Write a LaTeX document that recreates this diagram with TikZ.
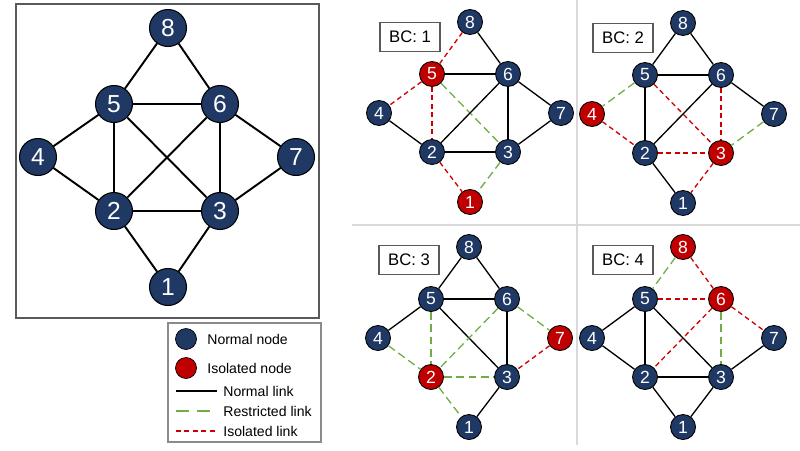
\documentclass[tikz,border=0pt]{standalone}
\usepackage{fontspec}
\setmainfont{Liberation Sans}
\usepackage{tikz}
\usetikzlibrary{positioning}
\definecolor{node-blue}{HTML}{1F3864}
\definecolor{node-red}{HTML}{C00000}
\definecolor{link-green}{HTML}{70AD47}
\definecolor{link-red}{HTML}{D00000}
\definecolor{frame-gray}{HTML}{595959}
\definecolor{rule-gray}{HTML}{D9D9D9}

% per-panel node colouring, reset to blue by default
\tikzset{
    n1/.style={}, n2/.style={}, n3/.style={}, n4/.style={},
    n5/.style={}, n6/.style={}, n7/.style={}, n8/.style={},
}

\begin{document}
\begin{tikzpicture}[
    x=0.02cm, y=-0.02cm,
    bn/.style={circle, draw=black, line width=0.6pt, fill=node-blue, text=white,
               inner sep=0pt, minimum size=0.74cm, font=\fontsize{14}{14}\selectfont},
    sn/.style={circle, draw=black, line width=0.5pt, fill=node-blue, text=white,
               inner sep=0pt, minimum size=0.5cm, font=\fontsize{10}{10}\selectfont},
    iso/.style={fill=node-red},
    bl/.style={black, line width=1.1pt},
    nl/.style={black, line width=0.75pt},
    rl/.style={link-green, line width=0.75pt, dash pattern=on 4.5pt off 2.5pt},
    il/.style={link-red, line width=0.75pt, dash pattern=on 2.8pt off 2pt},
    bc/.style={draw=frame-gray, line width=0.6pt, minimum width=1.2cm, minimum height=0.58cm,
               font=\fontsize{9.5}{9.5}\selectfont},
    lgtext/.style={anchor=west, inner sep=0pt, font=\fontsize{8}{8}\selectfont},
]
    \useasboundingbox (0,0) rectangle (800,450);

    % full network
    \draw[frame-gray, line width=0.8pt] (16,4) rectangle (319,318);
    \foreach \n/\x/\y in {8/168/28, 5/114/104, 6/220/104, 4/38/157,
                          7/296/157, 2/114/211, 3/220/211, 1/168/287}
        \node[bn] (m\n) at (\x,\y) {\n};
    \foreach \a/\b in {8/5, 8/6, 5/6, 5/4, 5/2, 5/3, 6/2, 6/3, 6/7, 4/2, 2/3, 7/3, 2/1, 3/1}
        \draw[bl] (m\a) -- (m\b);

    % legend
    \draw[frame-gray!70, line width=0.6pt] (168,323) rectangle (321,442);
    \node[circle, draw=black, line width=0.4pt, fill=node-blue, minimum size=0.42cm, inner sep=0pt] (lgN) at (186,339) {};
    \node[lgtext] (lgNt) at (207,339) {Normal node};
    \node[circle, draw=black, line width=0.4pt, fill=node-red, minimum size=0.42cm, inner sep=0pt] (lgI) at (186,368) {};
    \node[lgtext] (lgIt) at (207,368) {Isolated node};
    \coordinate (lgA1) at (176,391); \coordinate (lgA2) at (217,391);
    \coordinate (lgB1) at (176,411); \coordinate (lgB2) at (217,411);
    \coordinate (lgC1) at (176,431); \coordinate (lgC2) at (217,431);
    \draw[nl] (lgA1) -- (lgA2);
    \draw[rl, dash pattern=on 7.5pt off 4.5pt] (lgB1) -- (lgB2);
    \draw[il] (lgC1) -- (lgC2);
    \node[lgtext] at (223,391) {Normal link};
    \node[lgtext] at (223,411) {Restricted link};
    \node[lgtext] at (223,431) {Isolated link};

    % panel dividers
    \draw[rule-gray, line width=1pt] (577,0) -- (577,445);
    \draw[rule-gray, line width=1pt] (352,225) -- (800,225);

    % BC: 1
    \begin{scope}[shift={(470,22)}, name prefix=a-, n5/.style={iso}, n1/.style={iso}]
        \foreach \n/\x/\y in {8/0/0, 5/-38/52, 6/38/52, 4/-91/91,
                              7/91/91, 2/-38/130, 3/38/130, 1/0/180}
            \node[sn, n\n] (\n) at (\x,\y) {\n};
        \node[bc] (bc) at (-60,15) {BC: 1};
        \foreach \a/\b/\s in {8/5/il, 8/6/nl, 5/6/nl, 5/4/il, 5/2/il, 5/3/rl, 6/2/nl,
                              6/3/nl, 6/7/nl, 4/2/nl, 2/3/nl, 7/3/nl, 2/1/il, 3/1/rl}
            \draw[\s] (\a) -- (\b);
    \end{scope}

    % BC: 2
    \begin{scope}[shift={(683,23)}, name prefix=b-, n4/.style={iso}, n3/.style={iso}]
        \foreach \n/\x/\y in {8/0/0, 5/-38/52, 6/38/52, 4/-91/91,
                              7/91/91, 2/-38/130, 3/38/130, 1/0/180}
            \node[sn, n\n] (\n) at (\x,\y) {\n};
        \node[bc] (bc) at (-60,15) {BC: 2};
        \foreach \a/\b/\s in {8/5/nl, 8/6/nl, 5/6/nl, 5/4/rl, 5/2/nl, 5/3/il, 6/2/nl,
                              6/3/il, 6/7/nl, 4/2/il, 2/3/il, 7/3/rl, 2/1/nl, 3/1/il}
            \draw[\s] (\a) -- (\b);
    \end{scope}

    % BC: 3
    \begin{scope}[shift={(469,247)}, name prefix=c-, n2/.style={iso}, n7/.style={iso}]
        \foreach \n/\x/\y in {8/0/0, 5/-38/52, 6/38/52, 4/-91/91,
                              7/91/91, 2/-38/130, 3/38/130, 1/0/180}
            \node[sn, n\n] (\n) at (\x,\y) {\n};
        \node[bc] (bc) at (-60,13) {BC: 3};
        \foreach \a/\b/\s in {8/5/nl, 8/6/nl, 5/6/nl, 5/4/nl, 5/2/rl, 5/3/nl, 6/2/rl,
                              6/3/nl, 6/7/rl, 4/2/rl, 2/3/rl, 7/3/il, 2/1/rl, 3/1/nl}
            \draw[\s] (\a) -- (\b);
    \end{scope}

    % BC: 4
    \begin{scope}[shift={(683,247)}, name prefix=d-, n8/.style={iso}, n6/.style={iso}]
        \foreach \n/\x/\y in {8/0/0, 5/-38/52, 6/38/52, 4/-91/91,
                              7/91/91, 2/-38/130, 3/38/130, 1/0/180}
            \node[sn, n\n] (\n) at (\x,\y) {\n};
        \node[bc] (bc) at (-60,13) {BC: 4};
        \foreach \a/\b/\s in {8/5/rl, 8/6/il, 5/6/il, 5/4/nl, 5/2/nl, 5/3/nl, 6/2/il,
                              6/3/rl, 6/7/il, 4/2/nl, 2/3/nl, 7/3/nl, 2/1/nl, 3/1/nl}
            \draw[\s] (\a) -- (\b);
    \end{scope}
\end{tikzpicture}
\end{document}
